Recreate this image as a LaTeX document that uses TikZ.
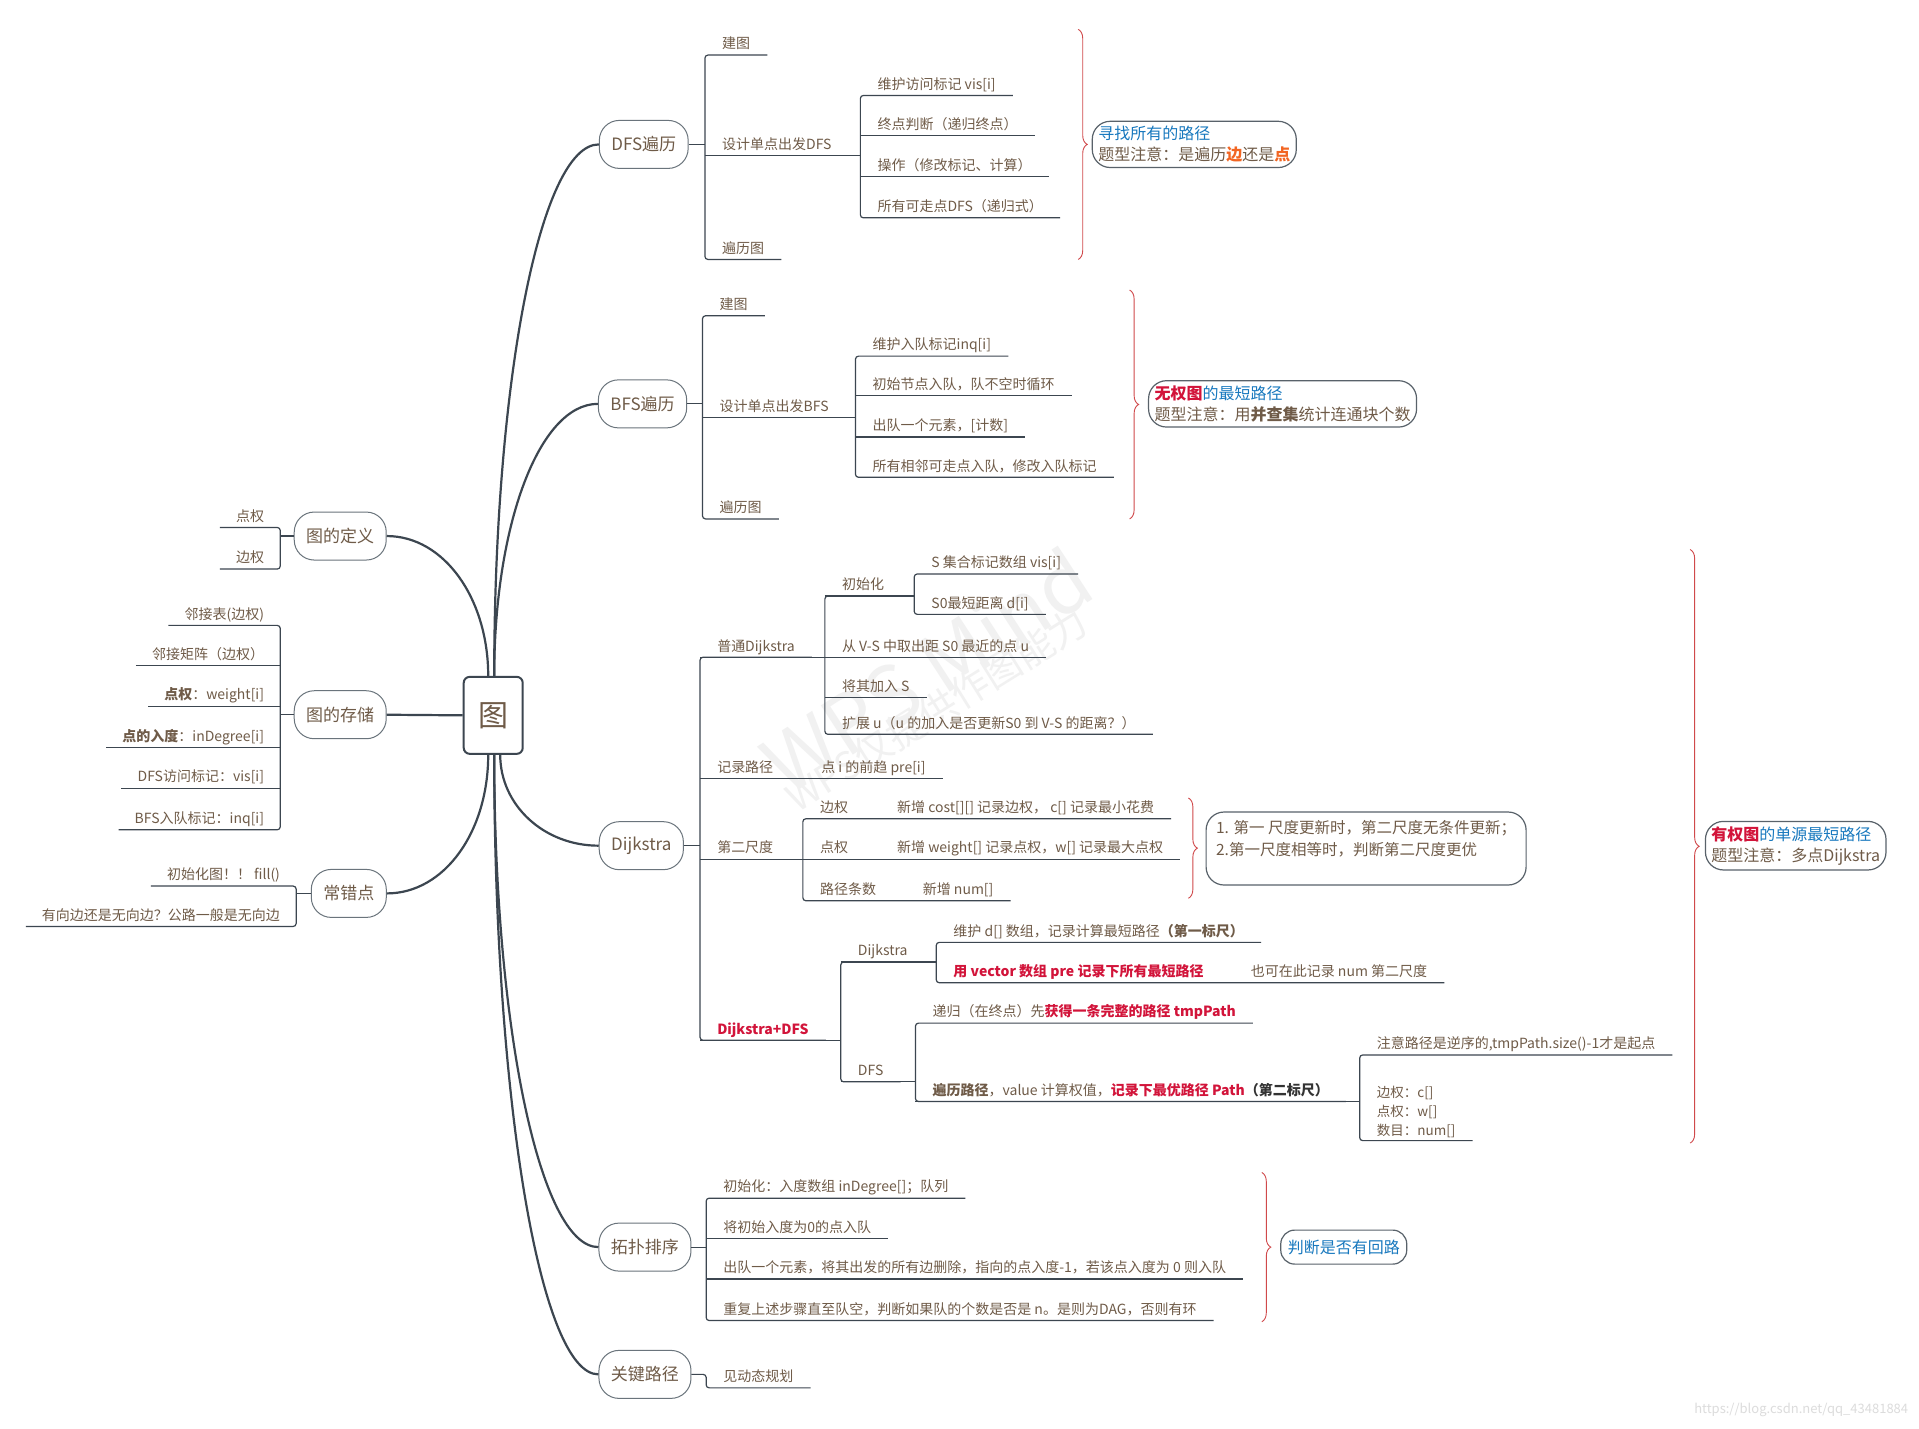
\documentclass[tikz,border=0pt]{standalone}
\usepackage{fontspec}
\setmainfont{Noto Sans CJK SC}
\usepackage{xcolor}
\definecolor{ink}{HTML}{6F5B48}
\definecolor{wire}{HTML}{3C4650}
\definecolor{rim}{HTML}{6A747C}
\definecolor{hot}{HTML}{D2143A}
\definecolor{cool}{HTML}{1778BE}
\definecolor{warm}{HTML}{F26522}
\definecolor{bracered}{HTML}{D0494B}
\definecolor{ghost}{HTML}{F1F1F1}
\definecolor{urlgray}{HTML}{DCDCDC}
\usepackage{tikz}
\usetikzlibrary{calc, decorations.pathreplacing}
\newcommand{\redb}[1]{\textcolor{hot}{\textbf{#1}}}

\begin{document}
\begin{tikzpicture}[x=1.2239pt, y=-1.2239pt,
  every node/.style={text=ink},
  trunk/.style={wire, line width=2.2pt},
  branch/.style={wire, line width=1.2pt, rounded corners=3pt},
  pill/.style={draw=rim, line width=1pt, fill=white, rounded corners=20pt,
               minimum height=48pt, inner xsep=12pt, font=\fontsize{17}{20}\selectfont},
  leaf/.style={anchor=south west, inner xsep=17pt, inner ysep=3pt,
               text height=12pt, text depth=3pt, font=\fontsize{14}{17}\selectfont},
  lleaf/.style={leaf, anchor=south east, inner xsep=16pt},
  note/.style={draw=wire!85, line width=1.2pt, fill=white, rounded corners=18pt,
               align=left, anchor=west, inner xsep=6pt, inner ysep=5pt,
               font=\fontsize{16}{21}\selectfont},
  curly/.style={bracered, line width=0.9pt, decorate,
                decoration={brace, amplitude=9pt}}
]
  \useasboundingbox (0,0) rectangle (1568,1167);
  \fill[white] (0,0) rectangle (1568,1167);

  \node[text=ghost, rotate=33, font=\fontsize{80}{80}\selectfont] (wm) at (757,548) {WPS Mind};
  \node[text=ghost, rotate=32, font=\fontsize{38}{38}\selectfont] (wmsub) at (765,580) {WPS仅提供作图能力};
  \node[anchor=east, text=urlgray, font=\fontsize{13}{13}\selectfont] (url) at (1562,1152)
    {https://blog.csdn.net/qq\_43481884};

  \node[draw=wire, line width=2pt, fill=white, rounded corners=6pt, minimum width=59pt,
        minimum height=77pt, font=\fontsize{30}{34}\selectfont] (root) at (403,584.5) {图};

  \node[pill] (def) at (278,438) {图的定义};
  \node[pill] (sto) at (278,584) {图的存储};
  \node[pill] (err) at (285,730) {常错点};
  \node[pill] (dfs) at (526,118) {DFS遍历};
  \node[pill] (bfs) at (525,330) {BFS遍历};
  \node[pill] (dij) at (524,691) {Dijkstra};
  \node[pill] (topo) at (527,1019) {拓扑排序};
  \node[pill] (crit) at (527,1123) {关键路径};

  \draw[trunk] ([xshift=-5pt]root.north) .. controls +(0,-63) and +(47,0) .. (def.east);
  \draw[trunk] (root.west) -- (sto.east);
  \draw[trunk] ([xshift=-5pt]root.south) .. controls +(0,63) and +(47,0) .. (err.east);
  \draw[trunk] ([xshift=1pt]root.north) .. controls +(0,-240) and +(-48,0) .. (dfs.west);
  \draw[trunk] ([xshift=1pt]root.north) .. controls +(0,-123) and +(-48,0) .. (bfs.west);
  \draw[trunk] ([xshift=7pt]root.south) .. controls +(0,41) and +(-45,0) .. (dij.west);
  \draw[trunk] ([xshift=1pt]root.south) .. controls +(0,222) and +(-48,0) .. (topo.west);
  \draw[trunk] ([xshift=1pt]root.south) .. controls +(0,280) and +(-48,0) .. (crit.west);

  \node[lleaf] (defA) at (229,431) {点权};
  \node[lleaf] (defB) at (229,465) {边权};
  \draw[branch] (def.west) -- (def.west -| defA.south east);
  \draw[branch] (defA.south west) -- (defA.south east) -- (defB.south east) -- (defB.south west);

  \node[lleaf] (sto1) at (229,511) {邻接表(边权)};
  \node[lleaf] (sto2) at (229,544) {邻接矩阵（边权）};
  \node[lleaf] (sto3) at (229,577) {\textbf{点权}：weight[i]};
  \node[lleaf] (sto4) at (229,611) {\textbf{点的入度}：inDegree[i]};
  \node[lleaf] (sto5) at (229,644) {DFS访问标记：vis[i]};
  \node[lleaf] (sto6) at (229,678) {BFS入队标记：inq[i]};
  \draw[branch] (sto.west) -- (sto.west -| sto1.south east);
  \draw[branch] (sto1.south west) -- (sto1.south east) -- (sto6.south east) -- (sto6.south west);
  \foreach \n in {sto2,sto3,sto4,sto5} \draw[branch] (\n.south west) -- (\n.south east);

  \node[lleaf] (errA) at (242,724) {初始化图！！ fill()};
  \node[lleaf] (errB) at (242,757) {有向边还是无向边？公路一般是无向边};
  \draw[branch] (err.west) -- (err.west -| errA.south east);
  \draw[branch] (errA.south west) -- (errA.south east) -- (errB.south east) -- (errB.south west);

  \node[leaf] (dfsA) at (576,45) {建图};
  \node[leaf] (dfsB) at (576,127) {设计单点出发DFS};
  \node[leaf] (dfsC) at (576,212) {遍历图};
  \node[leaf] (dfsB1) at (703,78) {维护访问标记 vis[i]};
  \node[leaf] (dfsB2) at (703,111) {终点判断（递归终点）};
  \node[leaf] (dfsB3) at (703,144) {操作（修改标记、计算）};
  \node[leaf] (dfsB4) at (703,178) {所有可走点DFS（递归式）};
  \draw[branch] (dfs.east) -- (dfs.east -| dfsA.south west);
  \draw[branch] (dfsA.south east) -- (dfsA.south west) -- (dfsC.south west) -- (dfsC.south east);
  \draw[branch] (dfsB.south west) -- (dfsB1.south west |- dfsB.south);
  \draw[branch] (dfsB1.south east) -- (dfsB1.south west) -- (dfsB4.south west) -- (dfsB4.south east);
  \foreach \n in {dfsB2,dfsB3} \draw[branch] (\n.south west) -- (\n.south east);
  \draw[curly] (881,24) -- (881,212);
  \node[note] (dfsN) at (892,118)
    {\textcolor{cool}{寻找所有的路径}\\题型注意：是遍历\textcolor{warm}{\textbf{边}}还是\textcolor{warm}{\textbf{点}}};

  \node[leaf] (bfsA) at (574,258) {建图};
  \node[leaf] (bfsB) at (574,341) {设计单点出发BFS};
  \node[leaf] (bfsC) at (574,424) {遍历图};
  \node[leaf] (bfsB1) at (699,291) {维护入队标记inq[i]};
  \node[leaf] (bfsB2) at (699,323) {初始节点入队，队不空时循环};
  \node[leaf] (bfsB3) at (699,357) {出队一个元素，[计数]};
  \node[leaf] (bfsB4) at (699,390) {所有相邻可走点入队，修改入队标记};
  \draw[branch] (bfs.east) -- (bfs.east -| bfsA.south west);
  \draw[branch] (bfsA.south east) -- (bfsA.south west) -- (bfsC.south west) -- (bfsC.south east);
  \draw[branch] (bfsB.south west) -- (bfsB1.south west |- bfsB.south);
  \draw[branch] (bfsB1.south east) -- (bfsB1.south west) -- (bfsB4.south west) -- (bfsB4.south east);
  \foreach \n in {bfsB2,bfsB3} \draw[branch] (\n.south west) -- (\n.south east);
  \draw[curly] (923,237) -- (923,424);
  \node[note] (bfsN) at (938,330)
    {\redb{无权图}\textcolor{cool}{的最短路径}\\题型注意：用\textbf{并查集}统计连通块个数};

  \node[leaf] (dj1) at (572,537) {普通Dijkstra};
  \node[leaf] (dj2) at (572,636) {记录路径};
  \node[leaf] (dj3) at (572,702) {第二尺度};
  \node[leaf] (dj4) at (572,850) {\redb{Dijkstra+DFS}};
  \node[leaf] (dj2a) at (657,636) {点 i 的前趋 pre[i]};
  \draw[branch] (dij.east) -- (dij.east -| dj1.south west);
  \draw[branch] (dj1.south east) -- (dj1.south west) -- (dj4.south west) -- (dj4.south east);
  \draw[branch] (dj2.south west) -- (dj2a.south east);
  \draw[branch] (dj1.south west) -- (dj1.south east);

  \node[leaf] (pl1) at (674,487) {初始化};
  \node[leaf] (pl2) at (674,537) {从 V-S 中取出距 S0 最近的点 u};
  \node[leaf] (pl3) at (674,570) {将其加入 S};
  \node[leaf] (pl4) at (674,600) {扩展 u（u 的加入是否更新S0 到 V-S 的距离？）};
  \node[leaf] (in1) at (747,469) {S 集合标记数组 vis[i]};
  \node[leaf] (in2) at (747,502) {S0最短距离 d[i]};
  \draw[branch] (dj1.south west) -- (pl2.south east);
  \draw[branch] (pl1.south east) -- (pl1.south west) -- (pl4.south west) -- (pl4.south east);
  \draw[branch] (pl3.south west) -- (pl3.south east);
  \draw[branch] (pl1.south west) -- (in1.south west |- pl1.south);
  \draw[branch] (in1.south east) -- (in1.south west) -- (in2.south west) -- (in2.south east);

  \node[leaf] (sc1) at (656,669) {边权};
  \node[leaf] (sc2) at (656,702) {点权};
  \node[leaf] (sc3) at (656,736) {路径条数};
  \node[leaf] (sc1a) at (719,669) {新增 cost[][] 记录边权， c[] 记录最小花费};
  \node[leaf] (sc2a) at (719,702) {新增 weight[] 记录点权，w[] 记录最大点权};
  \node[leaf] (sc3a) at (740,736) {新增 num[]};
  \draw[branch] (dj3.south west) -- (sc2a.south east);
  \draw[branch] (sc1a.south east) -- (sc1.south west) -- (sc3.south west) -- (sc3a.south east);
  \draw[curly] (971,652) -- (971,734);
  \node[note, anchor=north west, font=\fontsize{15.5}{22}\selectfont, inner xsep=10pt,
        minimum height=73pt] (scN) at (985,663)
    {1. 第一 尺度更新时，第二尺度无条件更新；\\2.第一尺度相等时，判断第二尺度更优\\\mbox{}};

  \node[leaf] (dd1) at (687,786) {Dijkstra};
  \node[leaf] (dd2) at (687,884) {DFS};
  \node[leaf] (dk1) at (765,770) {维护 d[] 数组，记录计算最短路径\textbf{（第一标尺）}};
  \node[leaf] (dk2) at (765,803) {\redb{用 vector 数组 pre 记录下所有最短路径}};
  \node[leaf] (dk2a) at (1008,803) {也可在此记录 num 第二尺度};
  \node[leaf] (df1) at (748,836) {递归（在终点）先\redb{获得一条完整的路径 tmpPath}};
  \node[leaf] (df2) at (748,900)
    {\textbf{遍历路径}，value 计算权值，\redb{记录下最优路径 Path}\textbf{\textcolor{black!80}{（第二标尺）}}};
  \node[leaf] (pt1) at (1111,862) {注意路径是逆序的,tmpPath.size()-1才是起点};
  \node[leaf, align=left, text height=, text depth=, font=\fontsize{13.5}{19}\selectfont]
    (pt2) at (1111,932) {边权：c[]\\点权：w[]\\数目：num[]};
  \draw[branch] (dj4.south west) -- (dd1.south west |- dj4.south);
  \draw[branch] (dd1.south east) -- (dd1.south west) -- (dd2.south west) -- (dd2.south east);
  \draw[branch] (dd1.south west) -- (dk1.south west |- dd1.south);
  \draw[branch] (dk1.south east) -- (dk1.south west) -- (dk2.south west) -- (dk2a.south east);
  \draw[branch] (dd2.south west) -- (df1.south west |- dd2.south);
  \draw[branch] (df1.south east) -- (df1.south west) -- (df2.south west) -- (df2.south east);
  \draw[branch] (df2.south west) -- (pt1.south west |- df2.south);
  \draw[branch] (pt1.south east) -- (pt1.south west) -- (pt2.south west) -- (pt2.south east);
  \draw[curly] (1381,449) -- (1381,934);
  \node[note] (dijN) at (1393,691)
    {\redb{有权图}\textcolor{cool}{的单源最短路径}\\题型注意：多点Dijkstra};

  \node[leaf] (tp1) at (577,979) {初始化：入度数组 inDegree[]；队列};
  \node[leaf] (tp2) at (577,1012) {将初始入度为0的点入队};
  \node[leaf] (tp3) at (577,1045) {出队一个元素，将其出发的所有边删除，指向的点入度-1，若该点入度为 0 则入队};
  \node[leaf] (tp4) at (577,1079) {重复上述步骤直至队空，判断如果队的个数是否是 n。是则为DAG，否则有环};
  \draw[branch] (topo.east) -- (topo.east -| tp1.south west);
  \draw[branch] (tp1.south east) -- (tp1.south west) -- (tp4.south west) -- (tp4.south east);
  \foreach \n in {tp2,tp3} \draw[branch] (\n.south west) -- (\n.south east);
  \draw[curly] (1031,958) -- (1031,1080);
  \node[note, rounded corners=14pt, minimum height=34pt, inner xsep=7pt] (topoN) at (1046,1019)
    {\textcolor{cool}{判断是否有回路}};

  \node[leaf] (cr1) at (577,1134) {见动态规划};
  \draw[branch] (crit.east) -- (crit.east -| cr1.south west) -- (cr1.south west) -- (cr1.south east);
\end{tikzpicture}
\end{document}
